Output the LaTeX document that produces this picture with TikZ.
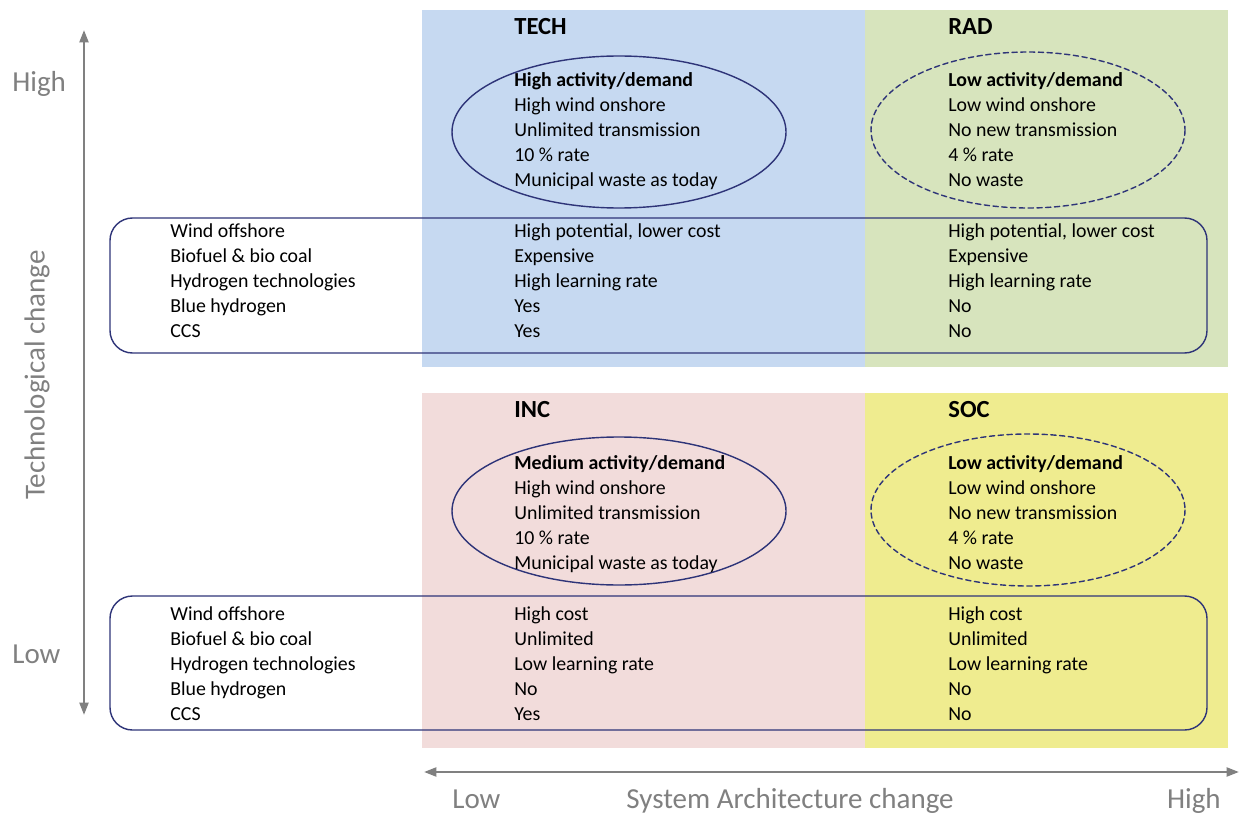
\documentclass[tikz,border=0pt]{standalone}
\usepackage{fontspec}
\setmainfont{Carlito}
\usetikzlibrary{arrows.meta}
\definecolor{techfill}{RGB}{198,217,241}
\definecolor{radfill}{RGB}{215,228,189}
\definecolor{incfill}{RGB}{242,220,219}
\definecolor{socfill}{RGB}{239,236,143}
\definecolor{ringblue}{RGB}{46,52,120}
\definecolor{axisgray}{RGB}{128,128,128}
\begin{document}
\begin{tikzpicture}[line cap=round,line join=round,x=0.02cm,y=-0.02cm,
    txt/.style={anchor=north west,inner sep=0pt,align=left,font=\fontsize{11.3}{14.23}\selectfont},
    ttl/.style={anchor=base west,inner sep=0pt,font=\fontsize{14}{16}\selectfont\bfseries},
    axlbl/.style={text=axisgray,inner sep=0pt,font=\fontsize{16.5}{20}\selectfont},
    axis/.style={axisgray,line width=1.4pt,{Triangle[length=7pt,width=5pt]}-{Triangle[length=7pt,width=5pt]}},
    ring/.style={draw=ringblue,line width=0.8pt}]
                \useasboundingbox (0,0) rectangle (1240,814);
                % quadrants
                \fill [techfill] (422,10) rectangle (865,367);
                \fill [radfill] (865,10) rectangle (1228,367);
                \fill [incfill] (422,393) rectangle (865,748);
                \fill [socfill] (865,393) rectangle (1228,748);
                % ellipses
                \draw [ring] (619,132) ellipse [x radius=167, y radius=76];
                \draw [ring,dash pattern=on 3pt off 2pt] (1028,130) ellipse [x radius=157, y radius=78];
                \draw [ring] (619,511) ellipse [x radius=167, y radius=74];
                \draw [ring,dash pattern=on 3pt off 2pt] (1028,510) ellipse [x radius=157, y radius=76];
                % technology boxes
                \draw [ring,rounded corners=0.45cm] (110,218) rectangle (1207,353);
                \draw [ring,rounded corners=0.45cm] (110,596) rectangle (1207,730);
                % axes
                \coordinate (vtop) at (84,30);
                \coordinate (vbot) at (84,715);
                \coordinate (hleft) at (424,772);
                \coordinate (hright) at (1239,772);
                \draw [axis] (vtop) -- (vbot);
                \draw [axis] (hleft) -- (hright);
                \node [axlbl,anchor=base west] (thigh) at (12,92) {High};
                \node [axlbl,anchor=base west] (tlow) at (12,663) {Low};
                \node [axlbl,rotate=90] (tchange) at (37,375) {Technological change};
                \node [axlbl,anchor=base west] (slow) at (452,808) {Low};
                \node [axlbl,anchor=base] (schange) at (790,808) {System Architecture change};
                \node [axlbl,anchor=base east] (shigh) at (1221,808) {High};
                % titles
                \node [ttl] (tech) at (514,35) {TECH};
                \node [ttl] (rad) at (948,35) {RAD};
                \node [ttl] (inc) at (514,417) {INC};
                \node [ttl] (soc) at (948,417) {SOC};
                % scenario assumptions
                \node [txt] (techset) at (514,68.5) {\strut\textbf{High activity/demand}\\High wind onshore\\Unlimited transmission\\10 \% rate\\Municipal waste as today};
                \node [txt] (radset) at (948,68.5) {\strut\textbf{Low activity/demand}\\Low wind onshore\\No new transmission\\4 \% rate\\No waste};
                \node [txt] (incset) at (514,451.5) {\strut\textbf{Medium activity/demand}\\High wind onshore\\Unlimited transmission\\10 \% rate\\Municipal waste as today};
                \node [txt] (socset) at (948,451.5) {\strut\textbf{Low activity/demand}\\Low wind onshore\\No new transmission\\4 \% rate\\No waste};
                % technologies
                \node [txt] (techlist) at (170,219.5) {\strut Wind offshore\\Biofuel \& bio coal\\Hydrogen technologies\\Blue hydrogen\\CCS};
                \node [txt] (techhigh) at (514,219.5) {\strut High potential, lower cost\\Expensive\\High learning rate\\Yes\\Yes};
                \node [txt] (radtech) at (948,219.5) {\strut High potential, lower cost\\Expensive\\High learning rate\\No\\No};
                \node [txt] (lowlist) at (170,602.5) {\strut Wind offshore\\Biofuel \& bio coal\\Hydrogen technologies\\Blue hydrogen\\CCS};
                \node [txt] (inctech) at (514,602.5) {\strut High cost\\Unlimited\\Low learning rate\\No\\Yes};
                \node [txt] (soctech) at (948,602.5) {\strut High cost\\Unlimited\\Low learning rate\\No\\No};
\end{tikzpicture}
\end{document}
